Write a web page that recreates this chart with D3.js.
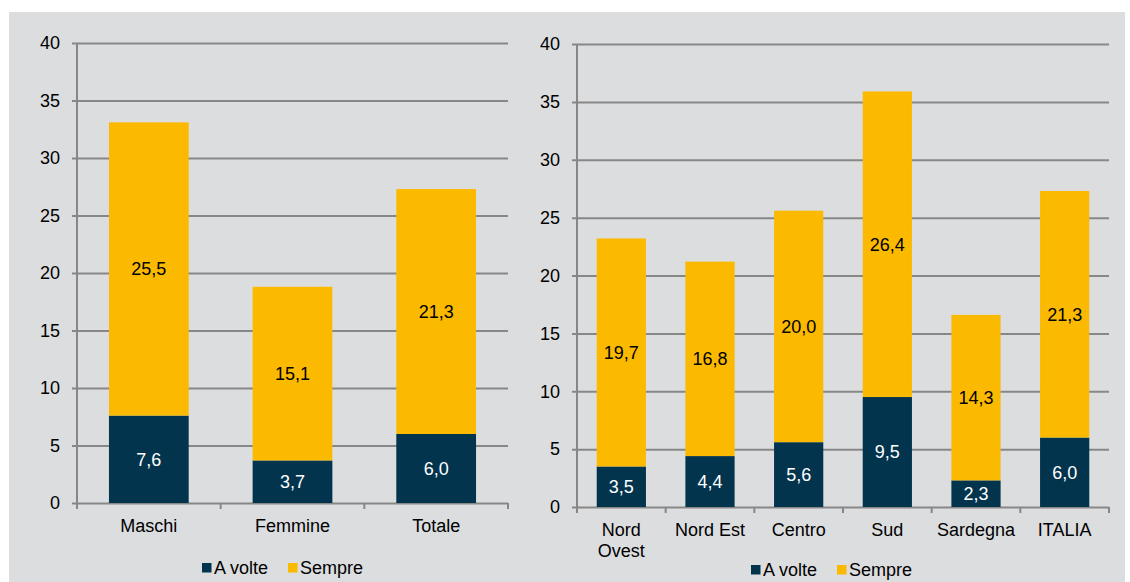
<!DOCTYPE html>
<html>
<head>
<meta charset="utf-8">
<script src="https://cdn.jsdelivr.net/npm/d3@7"></script>
<style>
  html, body { margin: 0; padding: 0; background: #ffffff; }
  svg { display: block; font-family: "Liberation Sans", Arial, sans-serif; }
</style>
</head>
<body>
<svg id="chart" width="1130" height="582"></svg>
<script>
// ---- Data ----
const seriesNames = ["A volte", "Sempre"];
const genderCategories = ["Maschi", "Femmine", "Totale"];
const genderAVolte = [7.6, 3.7, 6.0];
const genderSempre = [25.5, 15.1, 21.3];
const areaCategories = ["Nord Ovest", "Nord Est", "Centro", "Sud", "Sardegna", "ITALIA"];
const areaAVolte = [3.5, 4.4, 5.6, 9.5, 2.3, 6.0];
const areaSempre = [19.7, 16.8, 20.0, 26.4, 14.3, 21.3];
const yTicks = [0, 5, 10, 15, 20, 25, 30, 35, 40];

const colors = { "A volte": "#03344e", "Sempre": "#fbba00" };
const gridColor = "#878787";
const fmt = v => v.toFixed(1).replace(".", ",");

const svg = d3.select("#chart");
svg.append("rect").attr("x", 9).attr("y", 12).attr("width", 1116).attr("height", 570).attr("fill", "#dcdddf");

function panel(cfg) {
  const { cats, aV, sV, x0, x1, yTop, yBottom, legendX, legendY, wrap } = cfg;
  const x = d3.scaleBand().domain(cats).range([x0, x1]).paddingInner(0.445).paddingOuter(0.2225);
  const y = d3.scaleLinear().domain([0, 40]).range([yBottom, yTop]);
  const g = svg.append("g");

  // gridlines + y labels via axis
  const yAxis = d3.axisLeft(y).tickValues(yTicks).tickSize(-(x1 - x0) - 5).tickPadding(-0).tickFormat(d3.format("d"));
  const ya = g.append("g").attr("transform", `translate(${x1},0)`).call(
    d3.axisLeft(y).tickValues(yTicks).tickSize(x1 - x0 + 5).tickFormat(d3.format("d")).tickPadding(12)
  );
  ya.select(".domain").remove();
  ya.selectAll(".tick line").attr("stroke", gridColor).attr("stroke-width", 2);
  ya.selectAll(".tick text").attr("fill", "#000").attr("font-size", 18).attr("font-family", "Liberation Sans, Arial, sans-serif");

  // vertical axis line
  g.append("line").attr("x1", x0).attr("x2", x0).attr("y1", y(40)).attr("y2", y(0) + 1)
    .attr("stroke", gridColor).attr("stroke-width", 2);

  // x-axis ticks at band boundaries
  const step = x.step();
  const bounds = d3.range(cats.length + 1).map(i => x0 + i * (x1 - x0) / cats.length);
  g.selectAll(".xtick").data(bounds).join("line")
    .attr("x1", d => d).attr("x2", d => d).attr("y1", y(0)).attr("y2", y(0) + 6)
    .attr("stroke", gridColor).attr("stroke-width", 2);

  // stacked data
  const rows = cats.map((c, i) => ({ cat: c, "A volte": aV[i], "Sempre": sV[i] }));
  const stack = d3.stack().keys(seriesNames)(rows);
  stack.forEach(layer => {
    g.selectAll(null).data(layer).join("rect")
      .attr("x", d => x(d.data.cat))
      .attr("width", x.bandwidth())
      .attr("y", d => y(d[1]))
      .attr("height", d => y(d[0]) - y(d[1]))
      .attr("fill", colors[layer.key]);
    g.selectAll(null).data(layer).join("text")
      .attr("x", d => x(d.data.cat) + x.bandwidth() / 2)
      .attr("y", d => y((d[0] + d[1]) / 2))
      .attr("dy", "0.35em")
      .attr("text-anchor", "middle")
      .attr("font-size", 18)
      .attr("fill", layer.key === "A volte" ? "#ffffff" : "#000000")
      .text(d => fmt(d[1] - d[0]));
  });

  // category labels
  cats.forEach(c => {
    const parts = wrap && c === "Nord Ovest" ? ["Nord", "Ovest"] : [c];
    const t = g.append("text")
      .attr("x", x(c) + x.bandwidth() / 2)
      .attr("y", y(0) + 29)
      .attr("text-anchor", "middle")
      .attr("font-size", 18)
      .attr("fill", "#000");
    parts.forEach((p, i) => {
      t.append("tspan").attr("x", x(c) + x.bandwidth() / 2).attr("dy", i === 0 ? 0 : 21).text(p);
    });
  });

  // legend
  const lg = g.append("g").attr("transform", `translate(${legendX},${legendY})`);
  let lx = 0;
  seriesNames.forEach((s, i) => {
    lg.append("rect").attr("x", lx).attr("y", -5).attr("width", 9.5).attr("height", 9.5).attr("fill", colors[s]);
    const tx = lg.append("text").attr("x", lx + 12).attr("y", 0).attr("dy", "0.35em")
      .attr("font-size", 18).attr("fill", "#000").text(s);
    lx += (i === 0 ? 86 : 0);
  });
}

panel({ cats: genderCategories, aV: genderAVolte, sV: genderSempre,
        x0: 77, x1: 508, yTop: 43, yBottom: 503, legendX: 202, legendY: 568, wrap: false });
panel({ cats: areaCategories, aV: areaAVolte, sV: areaSempre,
        x0: 577, x1: 1109, yTop: 44, yBottom: 507, legendX: 751, legendY: 570, wrap: true });
</script>
</body>
</html>
